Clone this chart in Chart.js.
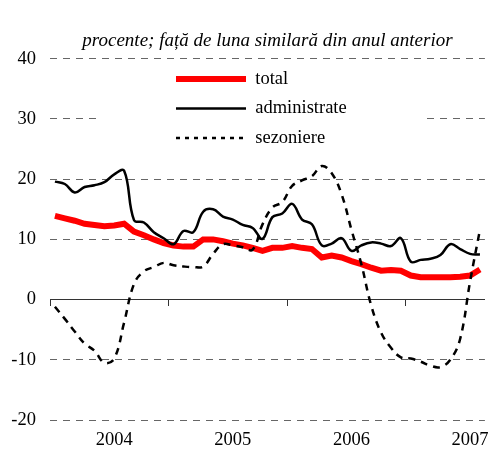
<!DOCTYPE html>
<html>
<head>
<meta charset="utf-8">
<script src="https://cdn.jsdelivr.net/npm/chart.js@4"></script>
<style>
  html, body { margin: 0; padding: 0; background: #fff; }
  #cadru { width: 489px; height: 453px; }
</style>
</head>
<body>
<div id="cadru"><canvas id="grafic"></canvas></div>
<script>
// luni: iulie 2003 - februarie 2007
const luni = [
  'iul 2003','aug 2003','sep 2003','oct 2003','noi 2003','dec 2003',
  'ian 2004','feb 2004','mar 2004','apr 2004','mai 2004','iun 2004',
  'iul 2004','aug 2004','sep 2004','oct 2004','noi 2004','dec 2004',
  'ian 2005','feb 2005','mar 2005','apr 2005','mai 2005','iun 2005',
  'iul 2005','aug 2005','sep 2005','oct 2005','noi 2005','dec 2005',
  'ian 2006','feb 2006','mar 2006','apr 2006','mai 2006','iun 2006',
  'iul 2006','aug 2006','sep 2006','oct 2006','noi 2006','dec 2006',
  'ian 2007','feb 2007'
];

const total = [13.9,13.5,13.1,12.6,12.4,12.2,12.3,12.6,11.3,10.7,10.0,9.4,
  9.0,8.8,8.8,10.0,10.0,9.7,9.3,9.0,8.6,8.1,8.6,8.6,
  8.9,8.6,8.4,7.0,7.3,7.0,6.4,5.9,5.3,4.8,4.9,4.8,
  4.0,3.7,3.7,3.7,3.7,3.8,4.0,5.0];

const administrate = [19.6,19.2,17.8,18.7,19.0,19.5,20.8,21.4,13.2,12.8,11.2,10.2,
  9.2,11.4,11.2,14.6,15.0,13.8,13.3,12.4,11.9,10.1,13.7,14.3,
  15.9,13.3,12.5,9.0,9.3,10.2,8.1,9.0,9.5,9.3,8.9,10.2,
  6.3,6.6,6.8,7.4,9.2,8.4,7.6,7.5];

const sezoniere = [-1.2,-3.2,-5.3,-7.3,-8.5,-10.5,-9.8,-3.8,2.6,4.7,5.4,6.1,
  5.7,5.5,5.4,5.5,7.6,9.2,9.0,8.7,8.3,12.5,15.3,16.2,
  18.9,19.8,20.5,22.2,21.0,17.5,11.6,5.9,-1.0,-5.5,-8.0,-9.6,
  -9.8,-10.3,-11.0,-11.2,-10.0,-6.5,3.0,11.6];

const FONT = "'Liberation Serif', 'Times New Roman', serif";

// legenda mutata in zona graficului, cu fond alb
const legendaInGrafic = {
  id: 'legendaInGrafic',
  afterLayout(chart) {
    const lg = chart.legend;
    const ca = chart.chartArea;
    lg.left = ca.left + 115;
    lg.top = ca.top;
    lg.bottom = ca.top + lg.height;
  },
  beforeDatasetsDraw(chart) {
    const lg = chart.legend;
    const hb = lg.legendHitBoxes;
    if (!hb || !hb.length) return;
    const ultim = hb[hb.length - 1];
    const ctx = chart.ctx;
    ctx.save();
    ctx.fillStyle = '#fff';
    ctx.fillRect(hb[0].left - 78, hb[0].top - 6, 325, ultim.top + ultim.height + 12 - hb[0].top);
    ctx.restore();
    lg.draw();
  }
};

new Chart(document.getElementById('grafic'), {
  type: 'line',
  data: {
    labels: luni,
    datasets: [
      { label: 'total', data: total, borderColor: '#ff0000', backgroundColor: '#ff0000',
        borderWidth: 6, tension: 0, pointRadius: 0, order: 3 },
      { label: 'administrate', data: administrate, borderColor: '#000', backgroundColor: '#000',
        borderWidth: 2.5, tension: 0.4, pointRadius: 0, order: 2 },
      { label: 'sezoniere', data: sezoniere, borderColor: '#000', backgroundColor: '#000',
        borderWidth: 2.5, borderDash: [7, 6], tension: 0.4, pointRadius: 0, order: 1 }
    ]
  },
  options: {
    responsive: true,
    maintainAspectRatio: false,
    animation: false,
    layout: { padding: { left: 0, right: 3, top: 0, bottom: 0 } },
    scales: {
      y: {
        min: -20, max: 40,
        afterFit: s => { s.width = 50; },
        ticks: { stepSize: 10, padding: 14, color: '#000', font: { family: FONT, size: 18.5 } },
        grid: {
          drawTicks: false,
          color: c => (c.tick && c.tick.value === 0) ? 'rgba(0,0,0,0)' : '#666',
          lineWidth: 1
        },
        border: { display: false, dash: [7, 6] }
      },
      x: {
        type: 'category',
        position: { y: 0 },
        offset: true,
        afterFit: s => { s.height = 0; },
        ticks: { display: false, autoSkip: false },
        grid: {
          offset: true,
          drawOnChartArea: false,
          tickLength: 6,
          tickColor: c => c.index % 12 === 0 ? '#333' : 'rgba(0,0,0,0)'
        },
        border: { display: true, color: '#333', width: 1 }
      },
      x2: {
        type: 'category',
        position: 'bottom',
        offset: true,
        afterFit: s => { s.height = 33; },
        grid: { display: false, drawTicks: false },
        border: { display: false },
        ticks: {
          autoSkip: false, maxRotation: 0, padding: 9, color: '#000',
          font: { family: FONT, size: 18.5 },
          callback: (v, i) => luni[i].startsWith('ian') ? luni[i].split(' ')[1] : ''
        }
      }
    },
    plugins: {
      title: {
        display: true,
        text: 'procente; față de luna similară din anul anterior',
        fullSize: false,
        color: '#000',
        font: { family: FONT, size: 19, style: 'italic', weight: 'normal' },
        padding: { top: 30, bottom: 6 }
      },
      legend: {
        position: 'chartArea',
        align: 'start',
        labels: {
          usePointStyle: true,
          pointStyle: 'line',
          pointStyleWidth: 70,
          padding: 11,
          color: '#000',
          font: { family: FONT, size: 18.5 },
          sort: (a, b) => a.datasetIndex - b.datasetIndex,
          generateLabels: chart => Chart.defaults.plugins.legend.labels.generateLabels(chart)
            .map(l => l.text === 'sezoniere' ? { ...l, lineDash: [4, 5] } : l)
        }
      },
      tooltip: { enabled: false }
    }
  },
  plugins: [legendaInGrafic]
});
</script>
</body>
</html>
